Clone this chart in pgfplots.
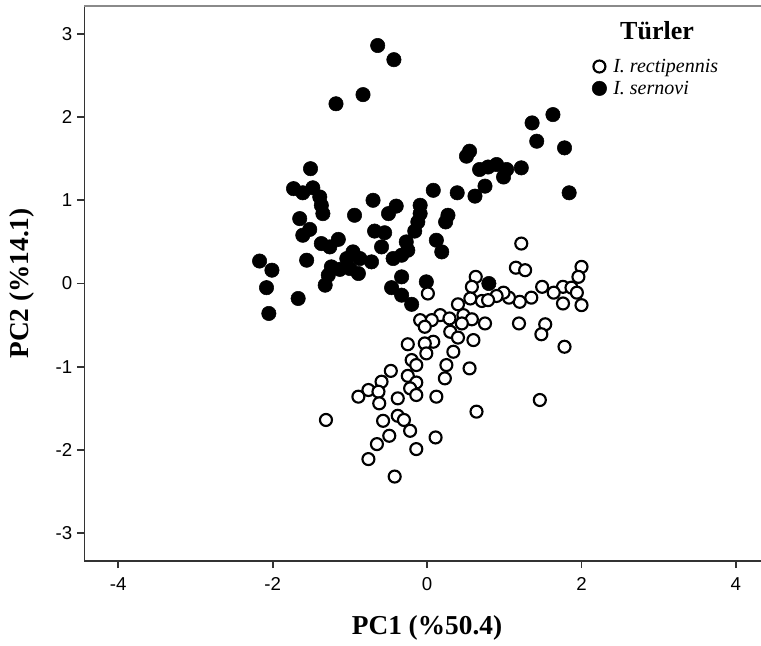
\documentclass[border=0pt]{standalone}
\usepackage{fontspec}
\setmainfont{Liberation Serif}
\setsansfont{Liberation Sans}
\usepackage{pgfplots}
\pgfplotsset{compat=1.18}
\pgfplotsset{dotlegend/.style={legend image code/.code={\draw[##1] plot coordinates {(0pt,0pt)};}}}

\definecolor{axisdark}{HTML}{333333}
\definecolor{axistop}{HTML}{8A8A8A}

\begin{document}
\begin{tikzpicture}
\begin{axis}[
    scale only axis,
    width=507.75pt, height=416.25pt,
    xmin=-4.444, xmax=4.325,
    ymin=-3.335, ymax=3.335,
    axis line style={draw=none},
    xtick={-4,-2,0,2,4}, xticklabels={-4,-2,0,2,4},
    ytick={-3,-2,-1,0,1,2,3}, yticklabels={-3,-2,-1,0,1,2,3},
    xtick pos=left, ytick pos=left,
    tick align=outside,
    major tick length=5.25pt,
    every tick/.style={draw=axisdark, line width=1.3pt},
    ticklabel style={font=\sffamily\fontsize{14}{16}\selectfont},
    xticklabel style={yshift=-3.5pt},
    xlabel={PC1 (\%50.4)},
    ylabel={PC2 (\%14.1)},
    label style={font=\bfseries\fontsize{20.5}{24}\selectfont},
    xlabel style={at={(axis description cs:0.5066,-0.1207)}, anchor=center},
    ylabel style={at={(axis description cs:-0.0916,0.5)}, anchor=center},
    legend style={draw=none, fill=none, inner sep=0pt,
        at={(axis description cs:0.7503,0.910)}, anchor=north west,
        font=\itshape\fontsize{15}{17}\selectfont,
        row sep=1pt, column sep=3pt},
    legend cell align=left,
    reverse legend,
]
% I. sernovi
\addplot[only marks, mark=*, mark size=5.4pt,
    mark options={draw=black, fill=black, line width=0.4pt}, dotlegend]
table[row sep=\\] {
x y \\
-0.64 2.86 \\ -0.43 2.69 \\ -0.83 2.27 \\ -1.18 2.16 \\ -1.51 1.38 \\
-1.73 1.14 \\ -1.61 1.09 \\ -1.48 1.15 \\ -1.39 1.04 \\ -1.37 0.94 \\
-1.35 0.84 \\ -0.70 1.00 \\ -0.40 0.93 \\ -0.50 0.84 \\ -0.09 0.94 \\
-0.09 0.84 \\ -0.12 0.74 \\ -0.16 0.63 \\ 0.08 1.12 \\ -0.94 0.82 \\
-1.65 0.78 \\ -1.52 0.65 \\ -1.61 0.58 \\ -0.68 0.63 \\ -0.55 0.61 \\
-0.59 0.44 \\ -1.37 0.48 \\ -1.26 0.44 \\ -1.15 0.53 \\ -0.27 0.50 \\
-0.25 0.40 \\ -0.44 0.30 \\ -0.33 0.34 \\ 0.12 0.52 \\ 0.19 0.38 \\
-0.96 0.38 \\ -0.87 0.30 \\ -0.72 0.26 \\ -1.04 0.30 \\ -1.24 0.20 \\
-1.13 0.17 \\ -1.00 0.18 \\ -0.89 0.12 \\ -1.28 0.10 \\ -1.32 -0.02 \\
-1.56 0.28 \\ -2.17 0.27 \\ -2.01 0.16 \\ -2.08 -0.05 \\ -2.05 -0.36 \\
-1.67 -0.18 \\ -0.33 0.08 \\ -0.46 -0.05 \\ -0.33 -0.14 \\ -0.20 -0.25 \\
-0.01 0.02 \\ 0.51 1.53 \\ 0.55 1.59 \\ 0.68 1.37 \\ 0.79 1.40 \\
0.90 1.43 \\ 1.03 1.37 \\ 0.99 1.28 \\ 1.22 1.39 \\ 0.75 1.17 \\
0.62 1.05 \\ 0.39 1.09 \\ 0.27 0.82 \\ 0.24 0.74 \\ 1.63 2.03 \\
1.36 1.93 \\ 1.42 1.71 \\ 1.78 1.63 \\ 1.84 1.09 \\ 0.80 0.00 \\
};
\addlegendentry{I. sernovi}
% I. rectipennis
\addplot[only marks, mark=*, mark size=4.5pt,
    mark options={draw=black, fill=white, line width=1.6pt}, dotlegend]
table[row sep=\\] {
x y \\
1.22 0.48 \\ 1.15 0.19 \\ 1.27 0.16 \\ 2.00 0.20 \\ 1.96 0.08 \\
1.76 -0.04 \\ 1.87 -0.05 \\ 1.94 -0.11 \\ 1.49 -0.04 \\ 1.64 -0.11 \\
1.76 -0.24 \\ 2.00 -0.26 \\ 1.35 -0.17 \\ 1.20 -0.22 \\ 1.06 -0.17 \\
0.99 -0.11 \\ 0.90 -0.15 \\ 0.63 0.08 \\ 0.58 -0.04 \\ 0.56 -0.18 \\
0.71 -0.21 \\ 0.79 -0.20 \\ 0.40 -0.25 \\ 0.17 -0.38 \\ 0.29 -0.42 \\
0.47 -0.38 \\ 0.58 -0.43 \\ 0.75 -0.48 \\ 0.45 -0.48 \\ 0.06 -0.44 \\
0.30 -0.58 \\ 0.40 -0.65 \\ 0.60 -0.68 \\ 0.08 -0.70 \\ 0.34 -0.82 \\
0.25 -0.98 \\ 0.55 -1.02 \\ 1.19 -0.48 \\ 1.53 -0.49 \\ 1.48 -0.61 \\
1.78 -0.76 \\ 0.01 -0.12 \\ -0.25 -0.73 \\ -0.03 -0.72 \\ -0.01 -0.84 \\
-0.20 -0.92 \\ -0.14 -0.98 \\ 0.23 -1.14 \\ -0.47 -1.05 \\ -0.25 -1.11 \\
-0.59 -1.18 \\ -0.14 -1.19 \\ -0.76 -1.28 \\ -0.63 -1.30 \\ -0.89 -1.36 \\
-0.22 -1.26 \\ -0.14 -1.34 \\ -0.62 -1.44 \\ -0.38 -1.38 \\ 0.12 -1.36 \\
0.64 -1.54 \\ -1.31 -1.64 \\ -0.38 -1.59 \\ -0.30 -1.64 \\ -0.57 -1.65 \\
-0.22 -1.77 \\ -0.49 -1.83 \\ 0.11 -1.85 \\ -0.65 -1.93 \\ -0.14 -1.99 \\
-0.76 -2.11 \\ -0.42 -2.32 \\ -0.09 -0.44 \\ -0.03 -0.52 \\ 1.46 -1.40 \\
};
\addlegendentry{I. rectipennis}
% frame: left and bottom dark, top grey, no right side
\draw[axisdark, line width=1.5pt] (rel axis cs:0,1) -- (rel axis cs:0,0) -- (rel axis cs:1,0);
\draw[axistop, line width=1.5pt] (rel axis cs:0,1) -- (rel axis cs:1,1);
\node[font=\bfseries\fontsize{19.5}{22}\selectfont] at (axis description cs:0.8464,0.955) {Türler};
\coordinate (bl) at (rel axis cs:0,0);
\coordinate (tr) at (rel axis cs:1,1);
\end{axis}
\pgfresetboundingbox
\path ([shift={(-63pt,-63pt)}]bl) rectangle ([shift={(0pt,4.5pt)}]tr);
\end{tikzpicture}
\end{document}
